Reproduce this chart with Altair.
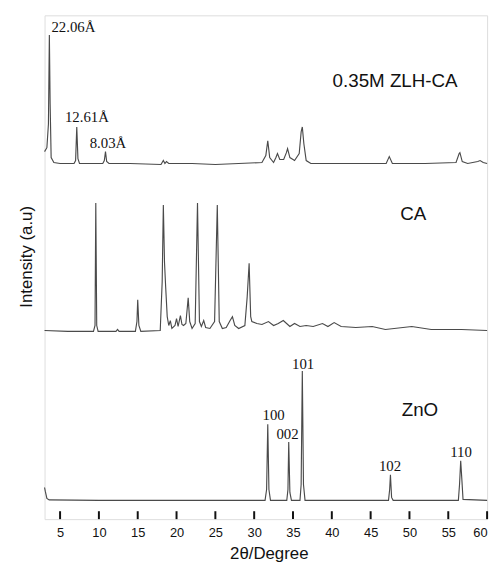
import altair as alt
import pandas as pd

# ---- data (2theta in degrees, intensity in arbitrary offset units) ----
zlh_x = [3.0, 3.3, 3.5, 3.62, 3.72, 3.85, 4.2, 5.0, 6.8, 7.0, 7.15, 7.3, 7.5, 10.5, 10.7, 10.85, 11.0,
         11.3, 14.0, 18.0, 18.3, 18.5, 18.7, 19.0, 22.0, 25.0, 28.0, 31.0, 31.5, 31.75, 32.0, 32.5, 32.8,
         33.0, 33.3, 33.8, 34.15, 34.3, 34.6, 35.2, 35.8, 36.05, 36.2, 36.4, 36.7, 37.3, 42.0, 47.0,
         47.4, 47.8, 52.0, 56.0, 56.4, 56.5, 56.8, 57.5, 58.8, 59.1, 59.5, 60.0]
zlh_y = [372, 376, 400, 490, 420, 366, 361, 360, 360, 363, 397, 365, 360, 360, 363, 372, 362,
         360, 360, 359, 363, 360, 362, 360, 360, 359, 360, 361, 368, 383, 366, 361, 366,
         370, 364, 364, 371, 375, 366, 363, 370, 392, 397, 380, 363, 360, 360, 360,
         367, 360, 360, 361, 370, 371, 362, 360, 362, 363, 361, 360]

ca_x = [3.0, 6.0, 9.3, 9.5, 9.6, 9.72, 9.9, 12.2, 12.4, 12.6, 14.7, 14.9, 15.0, 15.15, 15.4, 17.9,
        18.15, 18.3, 18.45, 18.6, 18.8, 19.0, 19.2, 19.4, 19.8, 20.0, 20.2, 20.5, 20.7, 20.9, 21.2,
        21.5, 21.7, 22.0, 22.4, 22.7, 22.95, 23.2, 23.5, 23.75, 24.3, 24.9, 25.25, 25.5, 25.9, 26.4,
        26.9, 27.2, 27.5, 28.0, 28.8, 29.1, 29.35, 29.55, 29.7, 30.35, 31.0, 31.84, 32.5, 33.1, 33.75,
        34.6, 35.2, 35.9, 36.7, 37.6, 38.8, 39.5, 40.3, 41.2, 43.1, 45.2, 46.9, 50.3, 52.8, 56.7, 60.0]
ca_y = [191, 190, 190, 196, 320, 196, 190, 190, 192, 190, 190, 200, 222, 196, 190, 191,
        240, 318, 260, 235, 205, 196, 201, 193, 196, 203, 195, 206, 197, 196, 198,
        224, 200, 193, 198, 320, 200, 195, 201, 194, 193, 200, 318, 200, 193, 194,
        201, 205, 196, 193, 196, 225, 259, 205, 200, 198, 197, 200, 196, 198, 201,
        195, 198, 195, 196, 195, 198, 195, 199, 195, 194, 195, 192, 195, 192, 192, 191]

zno_x = [3.0, 3.1, 3.3, 3.6, 10.0, 20.0, 31.4, 31.6, 31.75, 31.9, 32.1, 34.2, 34.35, 34.45, 34.6,
         34.8, 35.9, 36.05, 36.2, 36.35, 36.55, 42.0, 47.3, 47.45, 47.55, 47.7, 47.9, 52.0, 56.3,
         56.45, 56.6, 56.75, 56.9, 60.0]
zno_y = [32, 28, 21, 19.5, 19, 19, 19, 30, 96, 30, 19, 19, 30, 78, 27,
         19, 19, 35, 150, 35, 19, 19, 19, 30, 45, 22, 19, 19, 19,
         35, 59, 40, 20, 19]

x_ticks = [5, 10, 15, 20, 25, 30, 35, 40, 45, 50, 55, 60]

serif_text = ["22.06Å", "12.61Å", "8.03Å"]
serif_x = [3.89, 5.63, 8.81]
serif_y = [498, 407, 381]

hkl_text = ["100", "002", "101", "102", "110"]
hkl_x = [32.5, 34.3, 36.3, 47.5, 56.65]
hkl_y = [105, 86, 157, 54, 68]

sample_text = ["0.35M ZLH-CA", "CA", "ZnO"]
sample_x = [40.1, 48.8, 49.0]
sample_y = [443, 309, 110]

# ---- tables ----
frames = []
for name, xs, ys in [("ZLH", zlh_x, zlh_y), ("CA", ca_x, ca_y), ("ZnO", zno_x, zno_y)]:
    frames.append(pd.DataFrame({"x": xs, "y": ys, "s": name, "o": range(len(xs))}))
lines_df = pd.concat(frames, ignore_index=True)
ticks_df = pd.DataFrame({"x": x_ticks})
serif_df = pd.DataFrame({"t": serif_text, "x": serif_x, "y": serif_y})
hkl_df = pd.DataFrame({"t": hkl_text, "x": hkl_x, "y": hkl_y})
sample_df = pd.DataFrame({"t": sample_text, "x": sample_x, "y": sample_y})

xscale = alt.Scale(domain=[3, 60], nice=False, zero=False)
yscale = alt.Scale(domain=[0, 510], nice=False, zero=False)

xaxis = alt.Axis(values=x_ticks, title="2θ/Degree", ticks=False, tickSize=0, domain=False,
                 grid=False, labelFontSize=13, labelFont="Liberation Sans", labelColor="#111",
                 labelPadding=8, titleFont="Liberation Sans", titleFontSize=17,
                 titleFontWeight="normal", titleColor="#111", titleX=227, titleY=40,
                 titleBaseline="alphabetic", titleAlign="center")
yaxis = alt.Axis(title="Intensity (a.u)", labels=False, ticks=False, domain=False, grid=False,
                 titleFont="Liberation Sans", titleFontSize=17, titleFontWeight="normal",
                 titleColor="#111", titleAngle=270, titleX=-18, titleY=244,
                 titleAlign="center", titleBaseline="middle")

lines = alt.Chart(lines_df).mark_line(color="#4a4a4a", strokeWidth=1.15).encode(
    x=alt.X("x:Q", scale=xscale, axis=xaxis),
    y=alt.Y("y:Q", scale=yscale, axis=yaxis),
    detail="s:N",
    order="o:Q",
)

ticks = alt.Chart(ticks_df).mark_rule(color="#111", strokeWidth=2).encode(
    x=alt.X("x:Q", scale=xscale),
    y=alt.value(510),
    y2=alt.value(502),
)

serif = alt.Chart(serif_df).mark_text(font="Liberation Serif", fontSize=15, align="left",
                                      baseline="middle", color="#111").encode(
    x=alt.X("x:Q", scale=xscale), y=alt.Y("y:Q", scale=yscale), text="t:N")

hkl = alt.Chart(hkl_df).mark_text(font="Liberation Serif", fontSize=15, align="center",
                                  baseline="middle", color="#111").encode(
    x=alt.X("x:Q", scale=xscale), y=alt.Y("y:Q", scale=yscale), text="t:N")

samples = alt.Chart(sample_df).mark_text(font="Liberation Sans", fontSize=19, align="left",
                                         baseline="middle", color="#111").encode(
    x=alt.X("x:Q", scale=xscale), y=alt.Y("y:Q", scale=yscale), text="t:N")

chart = alt.layer(lines, ticks, serif, hkl, samples).properties(
    width=448, height=510,
    autosize=alt.AutoSizeParams(type="none"),
    padding={"left": 37, "top": 4, "right": 8, "bottom": 41},
).configure_view(stroke="#1a1a1a", strokeWidth=2).configure(background="white")

chart.save("out.html", embed_options={"renderer": "svg", "actions": False})
